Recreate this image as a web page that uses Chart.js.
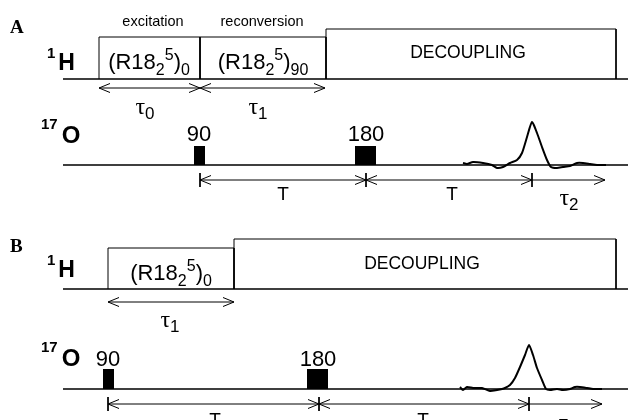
<!DOCTYPE html>
<html>
<head>
<meta charset="utf-8">
<script src="https://cdn.jsdelivr.net/npm/chart.js@4.4.0/dist/chart.umd.min.js"></script>
<style>
html, body { margin: 0; padding: 0; background: #fff; }
#wrap { width: 628px; height: 420px; }
</style>
</head>
<body>
<div id="wrap"><canvas id="chartCanvas" width="628" height="420"></canvas></div>
<script>
(function() {

  // diagram coordinates: x runs along the time axis, y down the page (diagram units)
  var trackX = [63, 628];
  var hTrackY = [79, 289];          // 1H baseline, panel A / B
  var oTrackY = [165, 389];         // 17O baseline, panel A / B

  // 1H blocks: block edges along time and block tops
  var hEdgesA = [99, 200, 326, 616];
  var hTopsA = [37, 37, 29];
  var hEdgesB = [108, 234, 616];
  var hTopsB = [248, 239];

  // 17O pulses [start, end] and pulse tops
  var pulsesA = [[194, 205], [355, 376]];
  var pulsesB = [[103, 114], [307, 328]];
  var pulseTop = [146, 369];

  // delay arrows (marks along time, level)
  var hMarksA = [99, 200, 325];
  var hMarksB = [108, 234];
  var hArrowY = [88, 302];
  var oMarksA = [200, 366, 532];
  var oMarksB = [108, 319, 529];
  var oEnd = [605, 602];
  var oArrowY = [180, 404];

  // detected echo
  var echoXA = [463, 467, 473, 483, 492, 497, 503, 510, 517, 522, 527, 532, 537, 542, 547, 551, 557, 563, 570, 577, 583, 590, 597, 606];
  var echoYA = [163, 164, 162, 163, 165, 168, 167, 163, 160, 153, 137, 122, 133, 147, 160, 167, 168, 167, 166, 163, 163, 164, 165, 165];
  var echoXB = [460, 463, 467, 473, 482, 490, 497, 502, 505, 510, 515, 520, 525, 529, 533, 537, 542, 546, 550, 557, 563, 570, 575, 580, 587, 593, 602];
  var echoYB = [387, 390, 387, 388, 388, 391, 390, 389, 388, 385, 378, 367, 355, 345, 355, 368, 380, 389, 390, 389, 390, 389, 387, 387, 388, 389, 389];

  var GAP = { x: 0, y: null };

  function pts(xs, ys) {
    return xs.map(function(x, i) { return { x: x, y: ys[i] }; });
  }

  function trackLines() {
    var out = [];
    hTrackY.concat(oTrackY).forEach(function(y) {
      out.push({ x: trackX[0], y: y }, { x: trackX[1], y: y }, GAP);
    });
    return out;
  }

  function blockLines(edges, tops, base) {
    var out = [];
    for (var i = 0; i < tops.length; i++) {
      out.push({ x: edges[i], y: base }, { x: edges[i], y: tops[i] },
        { x: edges[i + 1], y: tops[i] }, { x: edges[i + 1], y: base }, GAP);
    }
    return out;
  }

  function head(out, x, y, dir) {
    out.push({ x: x - dir * 11, y: y - 4.5 }, { x: x, y: y }, { x: x - dir * 11, y: y + 4.5 }, GAP);
  }

  function bar(out, x, y) {
    out.push({ x: x, y: y - 7 }, { x: x, y: y + 7 }, GAP);
  }

  function arrowLines() {
    var out = [];
    [[hMarksA, hArrowY[0]], [hMarksB, hArrowY[1]]].forEach(function(a) {
      var m = a[0], y = a[1];
      for (var i = 0; i < m.length - 1; i++) {
        out.push({ x: m[i], y: y }, { x: m[i + 1], y: y }, GAP);
        head(out, m[i], y, -1);
        head(out, m[i + 1], y, 1);
      }
    });
    [[oMarksA, oArrowY[0], oEnd[0]], [oMarksB, oArrowY[1], oEnd[1]]].forEach(function(a) {
      var m = a[0], y = a[1], end = a[2];
      for (var i = 0; i < m.length - 1; i++) {
        out.push({ x: m[i], y: y }, { x: m[i + 1], y: y }, GAP);
        head(out, m[i], y, -1);
        head(out, m[i + 1], y, 1);
      }
      m.forEach(function(x) { bar(out, x, y); });
      out.push({ x: m[m.length - 1], y: y }, { x: end, y: y }, GAP);
      head(out, end, y, 1);
    });
    return out;
  }

  function pulseSets() {
    var sets = [];
    [[pulsesA, pulseTop[0], oTrackY[0]], [pulsesB, pulseTop[1], oTrackY[1]]].forEach(function(p) {
      p[0].forEach(function(r) {
        sets.push({
          data: [{ x: r[0], y: p[1] }, { x: r[1], y: p[1] }],
          showLine: true, pointRadius: 0, borderWidth: 0,
          borderColor: '#000', backgroundColor: '#000',
          fill: { value: p[2] }
        });
      });
    });
    return sets;
  }

  var SANS = '"Liberation Sans", Arial, sans-serif';
  var SERIF = '"Liberation Serif", "Times New Roman", serif';

  // text pieces: [text, mode] with mode 1 = superscript, -1 = subscript
  var rLabel0 = [['(R18', 0], ['2', -1], ['5', 1], [')', 0], ['0', -1]];
  var rLabel90 = [['(R18', 0], ['2', -1], ['5', 1], [')', 0], ['90', -1]];
  var hLabel = [['1', 1], ['H', 0]];
  var oLabel = [['17', 1], ['O', 0]];

  var labels = [
    { parts: [['A', 0]], x: 10, y: 26, size: 19, family: SERIF, weight: 'bold', align: 'left' },
    { parts: [['B', 0]], x: 10, y: 245, size: 19, family: SERIF, weight: 'bold', align: 'left' },
    { parts: hLabel, x: 47, y: 62, size: 23, small: 15, up: 12, gap: 3, weight: 'bold', align: 'left' },
    { parts: hLabel, x: 47, y: 269, size: 23, small: 15, up: 12, gap: 3, weight: 'bold', align: 'left' },
    { parts: oLabel, x: 41, y: 134, size: 24, small: 15, up: 14, gap: 4, weight: 'bold', align: 'left' },
    { parts: oLabel, x: 41, y: 357, size: 24, small: 15, up: 14, gap: 4, weight: 'bold', align: 'left' },
    { parts: [['excitation', 0]], x: 153, y: 21, size: 14.5 },
    { parts: [['reconversion', 0]], x: 262, y: 21, size: 14.5 },
    { parts: rLabel0, x: 149, y: 61, size: 22, small: 16, up: 9, down: 6 },
    { parts: rLabel90, x: 263, y: 61, size: 22, small: 16, up: 9, down: 6 },
    { parts: rLabel0, x: 171, y: 272, size: 22, small: 16, up: 9, down: 6 },
    { parts: [['DECOUPLING', 0]], x: 468, y: 52, size: 17.5 },
    { parts: [['DECOUPLING', 0]], x: 422, y: 263, size: 17.5 },
    { parts: [['\u03c4', 0], ['0', -1]], x: 145, y: 105, size: 24, small: 17, down: 5, tau: true },
    { parts: [['\u03c4', 0], ['1', -1]], x: 258, y: 105, size: 24, small: 17, down: 5, tau: true },
    { parts: [['\u03c4', 0], ['1', -1]], x: 170, y: 318, size: 24, small: 17, down: 5, tau: true },
    { parts: [['90', 0]], x: 199, y: 133, size: 22 },
    { parts: [['180', 0]], x: 366, y: 133, size: 22 },
    { parts: [['90', 0]], x: 108, y: 358, size: 22 },
    { parts: [['180', 0]], x: 318, y: 358, size: 22 },
    { parts: [['T', 0]], x: 283, y: 193, size: 19 },
    { parts: [['T', 0]], x: 452, y: 193, size: 19 },
    { parts: [['\u03c4', 0], ['2', -1]], x: 569, y: 196, size: 24, small: 17, down: 5, tau: true },
    { parts: [['T', 0]], x: 215, y: 419, size: 19 },
    { parts: [['T', 0]], x: 423, y: 419, size: 19 },
    { parts: [['\u03c4', 0], ['2', -1]], x: 568, y: 421, size: 24, small: 17, down: 5, tau: true }
  ];

  function fontFor(l, p) {
    var size = p[1] === 0 ? l.size : (l.small || Math.round(l.size * 0.7));
    var fam = (l.tau && p[1] === 0) ? SERIF : (l.family || SANS);
    return (l.weight || 'normal') + ' ' + size + 'px ' + fam;
  }

  function drawRich(ctx, l, px, py) {
    ctx.save();
    ctx.fillStyle = '#000';
    ctx.textBaseline = 'alphabetic';
    var widths = l.parts.map(function(p) {
      ctx.font = fontFor(l, p);
      return ctx.measureText(p[0]).width;
    });
    var gap = l.gap || 0;
    var total = widths.reduce(function(a, b) { return a + b; }, 0) + gap * (l.parts.length - 1);
    var x = l.align === 'left' ? px : px - total / 2;
    var base = py + l.size * 0.36;
    l.parts.forEach(function(p, i) {
      ctx.font = fontFor(l, p);
      var dy = p[1] === 1 ? -(l.up || l.size * 0.4) : (p[1] === -1 ? (l.down || l.size * 0.25) : 0);
      ctx.fillText(p[0], x, base + dy);
      x += widths[i] + gap;
    });
    ctx.restore();
  }

  var labelPlugin = {
    id: 'diagramLabels',
    afterDatasetsDraw: function(chart) {
      var xs = chart.scales.x, ys = chart.scales.y;
      labels.forEach(function(l) {
        drawRich(chart.ctx, l, xs.getPixelForValue(l.x), ys.getPixelForValue(l.y));
      });
    }
  };

  var line = { showLine: true, pointRadius: 0, fill: false, borderColor: '#000', spanGaps: false };

  var datasets = [
    Object.assign({ data: trackLines(), borderWidth: 1.4 }, line),
    Object.assign({ data: blockLines(hEdgesA, hTopsA, hTrackY[0]).concat(blockLines(hEdgesB, hTopsB, hTrackY[1])), borderWidth: 1, borderColor: '#222' }, line),
    Object.assign({ data: arrowLines(), borderWidth: 1 }, line),
    Object.assign({ data: pts(echoXA, echoYA), borderWidth: 2, tension: 0.2 }, line),
    Object.assign({ data: pts(echoXB, echoYB), borderWidth: 2, tension: 0.2 }, line)
  ].concat(pulseSets());

  var ctx = document.getElementById('chartCanvas').getContext('2d');
  new Chart(ctx, {
    type: 'scatter',
    data: { datasets: datasets },
    options: {
      responsive: false,
      animation: false,
      layout: { padding: 0 },
      plugins: { legend: { display: false }, tooltip: { enabled: false } },
      scales: {
        x: { type: 'linear', min: 0, max: 628, display: false },
        y: { type: 'linear', min: 0, max: 420, reverse: true, display: false }
      }
    },
    plugins: [labelPlugin]
  });

})();
</script>
</body>
</html>
